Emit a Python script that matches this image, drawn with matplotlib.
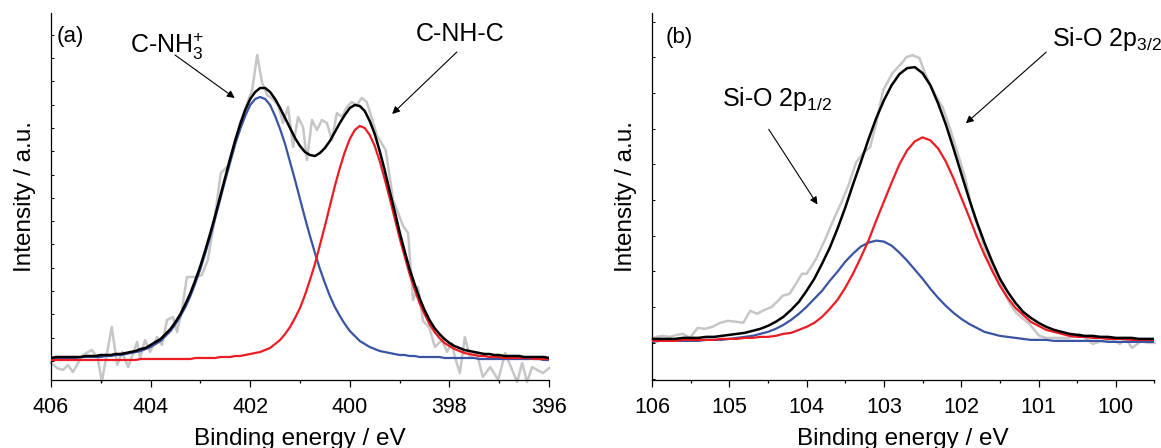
import numpy as np
import matplotlib
matplotlib.use("Agg")
import matplotlib.pyplot as plt
from matplotlib.ticker import MultipleLocator, NullFormatter

plt.rcParams['font.family'] = ['Liberation Sans', 'DejaVu Sans']
plt.rcParams['mathtext.fontset'] = 'custom'
plt.rcParams['mathtext.rm'] = 'Liberation Sans'
plt.rcParams['mathtext.it'] = 'Liberation Sans:italic'
plt.rcParams['mathtext.bf'] = 'Liberation Sans:bold'

# ---- (a) N 1s : fitted curves, 0.1 eV step from 406 to 396 eV
energy_a = np.round(np.arange(406.0, 395.95, -0.1), 1)
nh3_a = [3,3,3,3,3,3,4,4,4,4,4,5,5,6,6,7,8,9,10,12,14,17,20,25,30,37,45,54,65,78,92,108,125,143,162,181,199,217,232,245,256,262,264,262,256,245,232,217,199,181,162,143,125,108,92,78,65,54,45,37,30,25,20,17,14,12,10,9,8,7,6,6,5,5,4,4,4,4,4,3,3,3,3,3,3,3,2,2,2,2,2,2,2,2,2,2,2,2,2,1,1]
nhc_a = [1,1,1,1,1,1,1,1,1,1,1,1,1,1,1,1,1,1,2,2,2,2,2,2,2,2,2,2,2,3,3,3,3,3,4,4,4,5,5,6,7,8,9,11,13,17,21,27,34,43,53,66,81,97,116,135,155,175,193,209,222,231,235,233,226,215,200,182,163,143,123,105,87,72,58,47,37,29,23,18,15,12,10,8,7,6,5,5,4,4,4,3,3,3,3,3,3,2,2,2,2]
env_a = [3,4,4,4,4,4,4,5,5,5,6,6,6,7,7,8,9,10,12,13,16,19,22,27,32,39,47,57,68,81,95,111,128,146,165,184,203,221,237,251,262,269,273,273,269,262,253,243,233,223,215,209,206,205,208,213,220,229,238,246,253,256,255,250,240,227,210,191,170,150,129,110,92,77,63,51,41,33,27,22,18,15,13,11,10,9,8,7,7,6,6,5,5,5,5,4,4,4,4,4,3]

# (a) measured spectrum
raw_e_a = [406.0,405.88,405.76,405.66,405.56,405.36,405.18,405.06,404.98,404.78,404.67,404.57,404.45,
           404.27,404.21,404.11,404.01,403.87,403.77,403.67,403.55,403.47,403.37,403.27,403.1,402.97,
           402.85,402.72,402.59,402.45,402.35,402.2,402.06,401.96,401.86,401.76,401.66,401.55,401.44,
           401.34,401.24,401.14,401.04,400.94,400.86,400.76,400.66,400.56,400.46,400.36,400.26,400.16,
           400.06,399.96,399.86,399.76,399.66,399.56,399.45,399.28,399.13,398.93,398.83,398.73,398.63,
           398.53,398.41,398.29,398.15,398.05,397.95,397.89,397.79,397.69,397.59,397.45,397.33,397.18,
           397.02,396.88,396.74,396.64,396.54,396.44,396.34,396.24,396.12,396.0]
raw_i_a = [-2,-7,-9,-4,-11,6,11,3,-21,34,-4,9,-6,
           19,3,21,9,24,16,41,44,29,51,84,84,86,
           101,140,188,195,208,238,258,271,306,278,266,262,256,
           238,254,214,244,234,201,241,231,241,238,221,248,244,
           254,259,256,263,259,243,225,211,161,135,128,61,74,
           40,34,14,21,9,18,4,-12,24,4,8,-16,-6,
           -19,8,-9,-21,-2,-21,-6,-9,-12,-7]

# ---- (b) Si 2p : fitted curves, 0.1 eV step from 106 to 99.5 eV
energy_b = np.round(np.arange(106.0, 99.45, -0.1), 1)
p12_b = [1,2,2,2,2,2,2,3,3,3,4,5,6,7,9,11,14,18,23,29,36,44,52,62,71,81,89,96,100,102,101,97,90,82,73,64,54,45,37,30,24,19,15,11,9,7,6,5,4,3,3,3,2,2,2,2,2,2,2,1,1,1,1,1,1,1]
p32_b = [2,2,2,2,3,3,3,3,3,4,4,4,5,5,6,6,7,9,10,13,16,20,26,34,43,55,69,85,102,122,141,160,178,192,201,205,202,194,181,164,145,126,106,88,72,57,45,35,28,21,17,13,11,9,7,6,6,5,5,4,4,4,3,3,3,3]
env_b = [4,4,4,4,5,5,5,6,6,7,8,9,10,12,14,17,21,26,33,41,52,64,79,95,114,135,158,180,203,224,242,257,268,274,275,269,257,239,218,194,169,144,121,100,81,64,51,40,31,25,20,16,13,11,9,8,7,7,6,6,5,5,5,4,4,4]

raw_e_b = [106.0,105.94,105.86,105.77,105.68,105.6,105.51,105.41,105.32,105.22,105.12,105.02,104.9,
           104.82,104.73,104.64,104.57,104.45,104.37,104.31,104.22,104.13,104.06,104.0,103.93,103.87,
           103.75,103.64,103.55,103.45,103.36,103.26,103.18,103.1,103.01,102.89,102.77,102.71,102.63,
           102.54,102.47,102.41,102.32,102.24,102.15,102.05,101.95,101.86,101.76,101.68,101.57,101.47,
           101.37,101.29,101.2,101.12,100.99,100.9,100.73,100.6,100.47,100.38,100.3,100.17,100.06,
           99.95,99.87,99.79,99.67,99.59,99.5]
raw_i_b = [4,6,7,6,8,9,5,15,14,16,20,22,21,
           20,32,29,32,36,42,47,49,60,69,69,77,85,
           105,125,140,159,180,190,195,219,252,269,279,285,287,
           284,269,259,245,235,215,190,165,133,110,90,70,55,
           39,30,24,19,7,5,5,5,9,4,-1,2,4,
           -1,4,-5,2,0,0]

GRAY = '#c6c6c6'
BLUE = '#3a54a4'
RED = '#ec1c24'

fig = plt.figure(figsize=(11.61, 4.48), dpi=100)
ax1 = fig.add_axes([0.0439, 0.1518, 0.4290, 0.8192])
ax2 = fig.add_axes([0.5616, 0.1518, 0.4328, 0.8192])

for ax in (ax1, ax2):
    for s in ('top', 'right'):
        ax.spines[s].set_visible(False)
    for s in ('left', 'bottom'):
        ax.spines[s].set_linewidth(0.9)
    ax.tick_params(axis='x', which='major', direction='out', length=5, width=0.9, labelsize=15.5, pad=7)
    ax.tick_params(axis='x', which='minor', direction='out', length=2.5, width=0.9)
    ax.tick_params(axis='y', which='both', direction='in', length=2.5, width=0.7, labelleft=False)
    ax.yaxis.set_major_formatter(NullFormatter())
    ax.set_xlabel('Binding energy / eV', fontsize=17.5, labelpad=7.5)
    ax.set_ylabel('Intensity / a.u.', fontsize=17.5, labelpad=11)

# panel (a)
ax1.plot(raw_e_a, raw_i_a, color=GRAY, lw=1.8, clip_on=False, zorder=1)
ax1.plot(energy_a, nh3_a, color=BLUE, lw=1.6, zorder=2)
ax1.plot(energy_a, nhc_a, color=RED, lw=1.6, zorder=3)
ax1.plot(energy_a, env_a, color='black', lw=1.8, zorder=4)
ax1.set_xlim(406, 396)
ax1.set_ylim(-19, 348)
ax1.xaxis.set_major_locator(MultipleLocator(2))
ax1.xaxis.set_minor_locator(MultipleLocator(1))
ax1.yaxis.set_major_locator(MultipleLocator(23.3))
ax1.text(405.88, 324, '(a)', fontsize=16, va='center', ha='left')
ax1.text(404.41, 308, r'C-NH$_3^{+}$', fontsize=18, va='baseline', ha='left')
ax1.text(398.67, 320, 'C-NH-C', fontsize=18, va='baseline', ha='left')
arrow = dict(arrowstyle='-|>', color='black', lw=0.8, mutation_scale=11, shrinkA=0, shrinkB=0)
ax1.annotate('', xy=(402.31, 263), xytext=(403.51, 306), arrowprops=arrow)
ax1.annotate('', xy=(399.15, 247), xytext=(397.85, 309), arrowprops=arrow)

# panel (b)
ax2.plot(raw_e_b, raw_i_b, color=GRAY, lw=1.8, clip_on=False, zorder=1)
ax2.plot(energy_b, p12_b, color=BLUE, lw=1.6, zorder=2)
ax2.plot(energy_b, p32_b, color=RED, lw=1.6, zorder=3)
ax2.plot(energy_b, env_b, color='black', lw=1.8, zorder=4)
ax2.set_xlim(106, 99.5)
ax2.set_ylim(-37, 329)
ax2.xaxis.set_major_locator(MultipleLocator(1))
ax2.xaxis.set_minor_locator(MultipleLocator(0.5))
ax2.yaxis.set_major_locator(MultipleLocator(35.6))
ax2.text(105.82, 305, '(b)', fontsize=16, va='center', ha='left')
ax2.text(100.83, 296, r'Si-O 2p$_{3/2}$', fontsize=18, va='baseline', ha='left')
ax2.text(105.10, 236, r'Si-O 2p$_{1/2}$', fontsize=18, va='baseline', ha='left')
ax2.annotate('', xy=(101.94, 219), xytext=(100.9, 290), arrowprops=arrow)
ax2.annotate('', xy=(103.86, 138), xytext=(104.49, 213), arrowprops=arrow)

fig.savefig('out.png', dpi=100)
